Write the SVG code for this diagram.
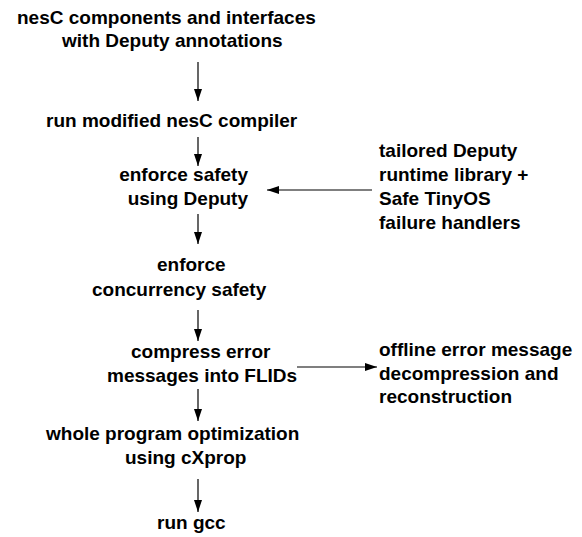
<svg xmlns="http://www.w3.org/2000/svg" width="582" height="537" viewBox="0 0 582 537">
<defs>
<marker id="ah" viewBox="0 0 12 8" refX="12" refY="4" markerWidth="12" markerHeight="8" markerUnits="userSpaceOnUse" orient="auto">
<path d="M0,0 L12,4 L0,8 Z" fill="#000"/>
</marker>
<style>
text{font-family:"Liberation Sans",Arial,Helvetica,sans-serif;font-weight:bold;font-size:19px;fill:#000}
.c line{stroke:#000;stroke-width:1.2;fill:none;marker-end:url(#ah)}
</style>
</defs>
<rect width="582" height="537" fill="#fff"/>
<g id="n1"><text x="17" y="24">nesC components and interfaces</text><text x="62" y="47">with Deputy annotations</text></g>
<g id="n2"><text x="46" y="127">run modified nesC compiler</text></g>
<g id="n3"><text x="248" y="181" text-anchor="end">enforce safety</text><text x="248" y="205" text-anchor="end">using Deputy</text></g>
<g id="n4"><text x="379" y="157">tailored Deputy</text><text x="379" y="181">runtime library +</text><text x="379" y="205">Safe TinyOS</text><text x="379" y="229">failure handlers</text></g>
<g id="n5"><text x="157" y="271">enforce</text><text x="92" y="296">concurrency safety</text></g>
<g id="n6"><text x="131" y="358">compress error</text><text x="107" y="382">messages into FLIDs</text></g>
<g id="n7"><text x="379" y="356">offline error message</text><text x="379" y="380">decompression and</text><text x="379" y="403">reconstruction</text></g>
<g id="n8"><text x="46" y="440">whole program optimization</text><text x="125" y="464">using cXprop</text></g>
<g id="n9"><text x="157" y="529">run gcc</text></g>
<g class="c" id="connectors">
<line x1="198" y1="62" x2="198" y2="101"/>
<line x1="198" y1="137" x2="198" y2="166"/>
<line x1="372" y1="190" x2="267" y2="190"/>
<line x1="198" y1="214" x2="198" y2="244"/>
<line x1="198" y1="310" x2="198" y2="341"/>
<line x1="297" y1="367" x2="377" y2="367"/>
<line x1="198" y1="389" x2="198" y2="421"/>
<line x1="198" y1="479" x2="198" y2="512"/>
</g>
</svg>
